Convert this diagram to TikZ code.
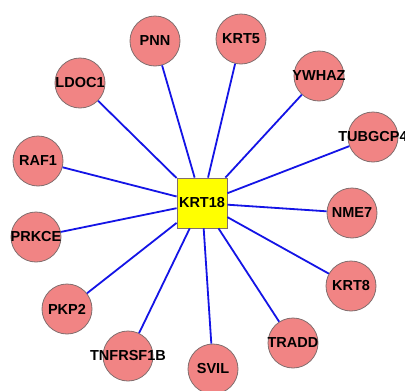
\documentclass[tikz,border=0pt]{standalone}
\usepackage{fontspec}
\setmainfont{Liberation Sans}
\definecolor{gene}{RGB}{241,132,132}
\definecolor{genedraw}{RGB}{130,110,110}
\definecolor{hub}{RGB}{255,255,0}
\definecolor{edgeblue}{RGB}{20,20,230}
\begin{document}
\begin{tikzpicture}[x=1pt,y=-1pt,
  genefont/.style={font=\fontsize{14.5}{14.5}\selectfont\bfseries,inner sep=0pt},
  genenode/.style={circle,fill=gene,draw=genedraw,line width=0.8pt,minimum size=50pt,inner sep=0pt,
    label={[genefont]center:#1}},
  hubnode/.style={rectangle,fill=hub,draw=genedraw,line width=0.8pt,minimum size=50pt,inner sep=0pt,genefont},
  link/.style={draw=edgeblue,line width=1.8pt}]
\useasboundingbox (0,0) rectangle (405,391);
\fill[white] (0,0) rectangle (405,391);
\node[hubnode] (krt18) at (202,203) {KRT18};
\node[genenode=PNN] (pnn) at (155,41) {};
\node[genenode=KRT5] (krt5) at (241,39) {};
\node[genenode=YWHAZ] (ywhaz) at (319,76) {};
\node[genenode=LDOC1] (ldoc1) at (80,83) {};
\node[genenode=TUBGCP4] (tubgcp4) at (373,137) {};
\node[genenode=RAF1] (raf1) at (38,161) {};
\node[genenode=NME7] (nme7) at (352,213) {};
\node[genenode=PRKCE] (prkce) at (36,237) {};
\node[genenode=KRT8] (krt8) at (351,286) {};
\node[genenode=PKP2] (pkp2) at (67,309) {};
\node[genenode=TRADD] (tradd) at (293,343) {};
\node[genenode=TNFRSF1B] (tnfrsf1b) at (128,356) {};
\node[genenode=SVIL] (svil) at (213,369) {};
\foreach \g in {pnn,krt5,ywhaz,ldoc1,tubgcp4,raf1,nme7,prkce,krt8,pkp2,tradd,tnfrsf1b,svil}
  \draw[link] (krt18) -- (\g);
\end{tikzpicture}
\end{document}
